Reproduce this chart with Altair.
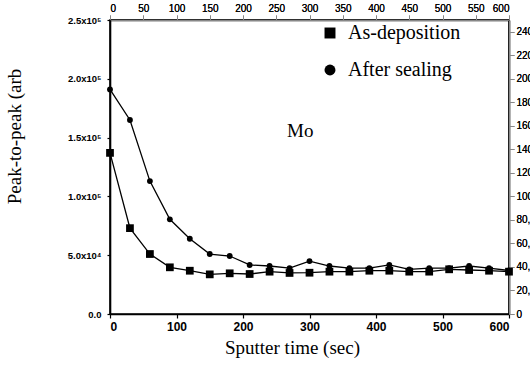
import altair as alt
import pandas as pd

times = [0, 30, 60, 90, 120, 150, 180, 210, 240, 270, 300, 330, 360, 390, 420, 450, 480, 510, 540, 570, 600]
as_dep = [137000, 73000, 51000, 39700, 36800, 33700, 34600, 34000, 36000, 34900, 35100, 36000,
          36000, 36800, 36800, 36000, 36000, 38000, 37400, 36800, 36000]
after_seal = [191000, 165000, 113000, 80500, 64000, 51000, 49300, 41700, 40800, 39000, 45000, 40800,
              39000, 39000, 41700, 38000, 39000, 39000, 40800, 39000, 37000]
series_names = ["As-deposition", "After sealing"]

x_ticks = [0, 100, 200, 300, 400, 500, 600]
y_ticks = [0, 50000, 100000, 150000, 200000, 250000]
y_labels = ["0.0", "5.0x10\u2074", "1.0x10\u2075", "1.5x10\u2075", "2.0x10\u2075", "2.5x10\u2075"]

X_MIN, X_MAX = 0, 600
Y_MIN, Y_MAX = 0, 250000

rows = []
for t, v in zip(times, as_dep):
    rows.append({"t": t, "v": v, "s": series_names[0]})
for t, v in zip(times, after_seal):
    rows.append({"t": t, "v": v, "s": series_names[1]})
df = pd.DataFrame(rows)

label_expr = "''"
for val, lab in reversed(list(zip(y_ticks, y_labels))):
    label_expr = f"datum.value == {val} ? '{lab}' : ({label_expr})"

xs = alt.Scale(domain=[X_MIN, X_MAX], nice=False)
ys = alt.Scale(domain=[Y_MIN, Y_MAX], nice=False)

x_enc = alt.X("t:Q", scale=xs, axis=alt.Axis(
    values=x_ticks, title="Sputter time (sec)", grid=False, ticks=True, tickSize=4,
    tickColor="black", tickWidth=1.2, domain=True, domainColor="black", domainWidth=1.6,
    labelFont="Liberation Sans", labelFontWeight="bold", labelFontSize=12, labelColor="black",
    labelPadding=3, titleFont="Liberation Serif", titleFontWeight="normal", titleFontSize=19,
    titleColor="black", titlePadding=6, titleX=182))
y_enc = alt.Y("v:Q", scale=ys, axis=alt.Axis(
    values=y_ticks, labelExpr=label_expr, title="Peak-to-peak (arb", grid=False, ticks=True,
    tickSize=3, tickColor="black", tickWidth=1.2, domain=True, domainColor="black",
    domainWidth=1.6, labelFont="Liberation Sans", labelFontWeight="bold", labelFontSize=9.5,
    labelColor="black", labelPadding=6, titleFont="Liberation Serif", titleFontWeight="normal",
    titleFontSize=19, titleColor="black", titleX=-86, titleY=116, titleAngle=270,
    titleAlign="center", titleBaseline="bottom"))

lines = alt.Chart(df).mark_line(color="black", strokeWidth=1.3).encode(
    x=x_enc, y=y_enc, detail="s:N")

points = alt.Chart(df).mark_point(filled=True, opacity=1, color="black").encode(
    x="t:Q", y="v:Q",
    shape=alt.Shape("s:N", scale=alt.Scale(domain=series_names, range=["square", "circle"]),
                    legend=alt.Legend(title=None, orient="none", legendX=210, legendY=3,
                                      labelFont="Liberation Serif", labelFontSize=20,
                                      labelColor="black", symbolSize=120, symbolFillColor="black",
                                      symbolStrokeColor="black", rowPadding=17, padding=0,
                                      labelOffset=8)),
    size=alt.condition(alt.datum.s == series_names[0], alt.value(60), alt.value(34)))

# top and right edges of the frame as bare axes
edge_df = pd.DataFrame({"t": [X_MIN, X_MAX], "v": [Y_MIN, Y_MAX]})
edges = alt.Chart(edge_df).mark_point(opacity=0).encode(
    x=alt.X("t:Q", scale=xs, axis=alt.Axis(orient="top", labels=False, ticks=False, title=None,
                                           grid=False, domain=True, domainColor="black",
                                           domainWidth=1.6)),
    y=alt.Y("v:Q", scale=ys, axis=alt.Axis(orient="right", labels=False, ticks=False, title=None,
                                           grid=False, domain=True, domainColor="black",
                                           domainWidth=1.6)))

ann = alt.Chart(pd.DataFrame({"t": [286], "v": [156000], "txt": ["Mo"]})).mark_text(
    font="Liberation Serif", fontSize=19, color="black").encode(x="t:Q", y="v:Q", text="txt:N")

chart = alt.layer(lines, points, edges, ann).resolve_axis(
    x="independent", y="independent"
).properties(
    width=399, height=294,
    background="white",
    autosize=alt.AutoSizeParams(type="none"),
    padding={"left": 110, "top": 20, "right": 21, "bottom": 60},
).configure_view(stroke="black", strokeWidth=1.6)

chart.save("out.html", embed_options={"renderer": "svg", "actions": False})
